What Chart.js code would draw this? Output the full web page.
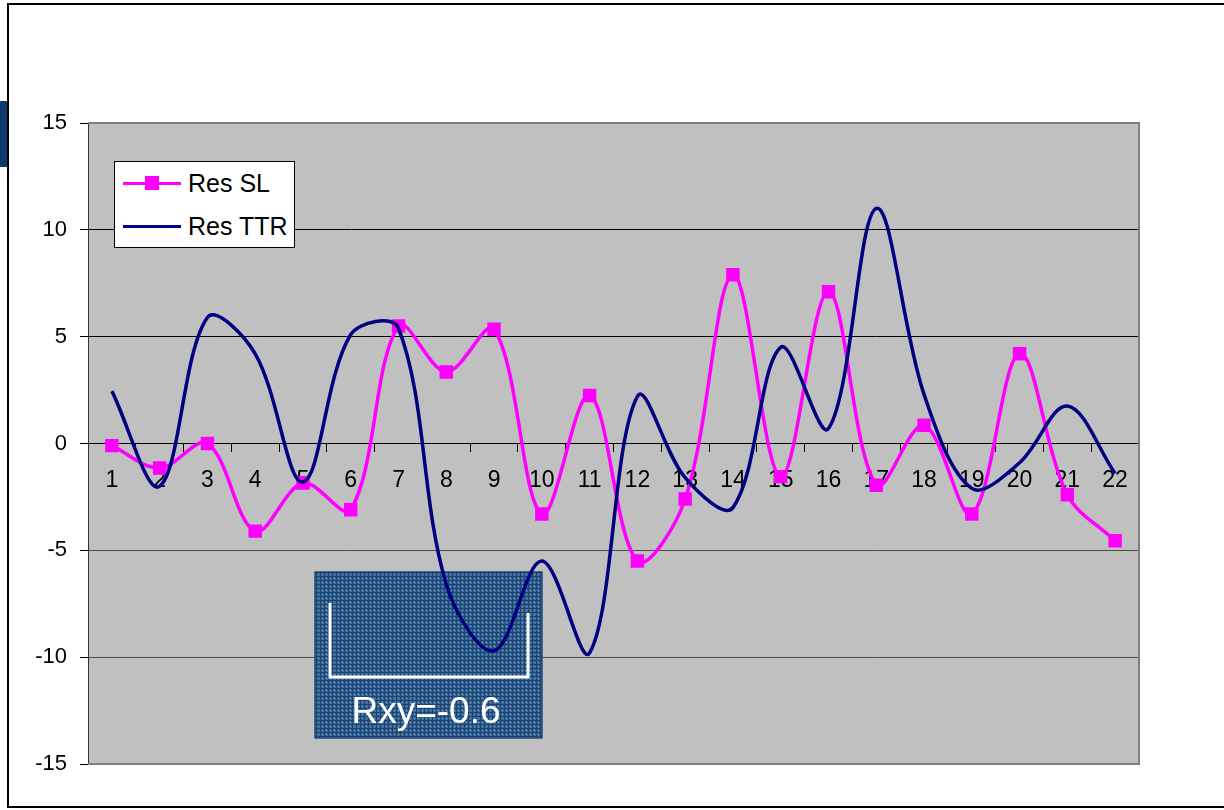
<!DOCTYPE html>
<html>
<head>
<meta charset="utf-8">
<script src="https://cdn.jsdelivr.net/npm/chart.js@4.4.1/dist/chart.umd.min.js"></script>
<style>
  html, body { margin: 0; padding: 0; background: #fff; }
  #wrap { position: relative; width: 1224px; height: 810px; overflow: hidden;
          font-family: "Liberation Sans", Arial, sans-serif; }
  #frame { position: absolute; left: 7px; top: 3px; width: 1300px; height: 805px;
           border: 2px solid #000; box-sizing: border-box; }
  #tab { position: absolute; left: 0; top: 101px; width: 7px; height: 66px; background: #0d3b6e; }
  #chart { position: absolute; left: 0; top: 0; }
  #legend { position: absolute; left: 114px; top: 161px; width: 181px; height: 87px;
            background: #fff; border: 1px solid #000; box-sizing: border-box; }
  #legend .txt { position: absolute; left: 73px; font-size: 25px; line-height: 29px; color: #000; white-space: nowrap; }
  #legend .ln { position: absolute; left: 8px; width: 58px; height: 3px; }
  #legend .mk { position: absolute; left: 30px; width: 14px; height: 14px; background: #ff00ff; }
</style>
</head>
<body>
<div id="wrap">
  <div id="frame"></div>
  <div id="tab"></div>
  <canvas id="chart" width="1224" height="810"></canvas>
  <div id="legend">
    <div class="ln" style="top:20px;background:#ff00ff;"></div>
    <div class="mk" style="top:14px;"></div>
    <div class="txt" style="top:7px;">Res SL</div>
    <div class="ln" style="top:63px;background:#000080;"></div>
    <div class="txt" style="top:50px;">Res TTR</div>
  </div>
</div>
<script>
// Categories along the x axis
const categories = ['1','2','3','4','5','6','7','8','9','10','11','12','13','14','15','16','17','18','19','20','21','22'];

// Residual series
const resSL  = [-0.1, -1.15, 0.0, -4.1, -1.85, -3.1, 5.5, 3.35, 5.35, -3.3, 2.25, -5.5,
                -2.6, 7.9, -1.55, 7.1, -1.95, 0.85, -3.3, 4.2, -2.4, -4.55];
const resTTR = [2.45, -2.0, 5.9, 4.2, -1.8, 5.1, 5.4, -6.6, -9.7, -5.5, -9.8, 2.2,
                -1.6, -3.0, 4.5, 0.7, 11.0, 2.3, -2.1, -0.9, 1.75, -1.4];

// Value axis range
const yMin = -15, yMax = 15, yStep = 5;

// Correlation note
const noteText = 'Rxy=-0.6';

const FONT = '"Liberation Sans", Arial, sans-serif';

// Small tiled texture for the note box
function makeTexture(ctx) {
  const t = document.createElement('canvas');
  t.width = 8; t.height = 8;
  const g = t.getContext('2d');
  g.fillStyle = '#3e6a97'; g.fillRect(0, 0, 8, 8);
  g.fillStyle = '#1a4474'; g.fillRect(0, 0, 8, 1); g.fillRect(0, 0, 1, 8);
  g.fillRect(0, 4, 8, 1); g.fillRect(4, 0, 1, 8);
  g.fillStyle = '#6f93ba';
  g.fillRect(2, 2, 1, 1); g.fillRect(6, 2, 1, 1); g.fillRect(2, 6, 1, 1); g.fillRect(6, 6, 1, 1);
  return ctx.createPattern(t, 'repeat');
}

const plotFrame = {
  id: 'plotFrame',
  beforeDraw(chart) {
    const { ctx, chartArea: a } = chart;
    ctx.save();
    ctx.fillStyle = '#c0c0c0';
    ctx.fillRect(a.left, a.top, a.right - a.left, a.bottom - a.top);
    ctx.restore();
  },
  beforeDatasetsDraw(chart) {
    const { ctx, chartArea: a } = chart;
    ctx.save();
    // plot area outline
    ctx.strokeStyle = '#808080';
    ctx.lineWidth = 2;
    ctx.beginPath();
    ctx.moveTo(a.left, a.top);
    ctx.lineTo(a.right, a.top);
    ctx.lineTo(a.right, a.bottom);
    ctx.lineTo(a.left, a.bottom);
    ctx.stroke();

    // note box
    const bx = a.left + 226.5, by = a.top + 448.5, bw = 228, bh = 167;
    ctx.fillStyle = makeTexture(ctx);
    ctx.fillRect(bx, by, bw, bh);
    ctx.strokeStyle = '#1b3f6a';
    ctx.lineWidth = 1;
    ctx.strokeRect(bx + 0.5, by + 0.5, bw - 1, bh - 1);

    // bracket
    ctx.strokeStyle = '#ffffff';
    ctx.lineWidth = 3;
    ctx.lineJoin = 'miter';
    ctx.beginPath();
    ctx.moveTo(bx + 15.5, by + 31.5);
    ctx.lineTo(bx + 15.5, by + 105.5);
    ctx.lineTo(bx + 213.5, by + 105.5);
    ctx.lineTo(bx + 213.5, by + 41.5);
    ctx.stroke();

    // note text
    ctx.fillStyle = '#ffffff';
    ctx.font = '37px ' + FONT;
    ctx.textAlign = 'center';
    ctx.textBaseline = 'alphabetic';
    ctx.fillText(noteText, bx + 111.5, by + 151.5);
    ctx.restore();
  }
};

new Chart(document.getElementById('chart'), {
  type: 'line',
  data: {
    labels: categories,
    datasets: [
      {
        label: 'Res SL',
        data: resSL,
        borderColor: '#ff00ff',
        backgroundColor: '#ff00ff',
        borderWidth: 3.5,
        pointStyle: 'rect',
        pointRadius: 9.5,
        pointBorderWidth: 0,
        pointBackgroundColor: '#ff00ff',
        tension: 0.35,
        order: 1
      },
      {
        label: 'Res TTR',
        data: resTTR,
        borderColor: '#000080',
        backgroundColor: '#000080',
        borderWidth: 3.5,
        pointRadius: 0,
        tension: 0.35,
        order: 0
      }
    ]
  },
  options: {
    responsive: false,
    animation: false,
    events: [],
    layout: { padding: { left: 0, top: 123, right: 85, bottom: 46 } },
    plugins: { legend: { display: false }, tooltip: { enabled: false } },
    scales: {
      x: {
        type: 'category',
        offset: true,
        position: { y: 0 },
        grid: { offset: true, drawOnChartArea: false, drawTicks: true, tickLength: 8, color: '#000' },
        border: { color: '#000', width: 1 },
        ticks: { color: '#000', font: { family: FONT, size: 23 }, padding: 15, maxRotation: 0, autoSkip: false }
      },
      y: {
        min: yMin,
        max: yMax,
        ticks: { stepSize: yStep, color: '#000', font: { family: FONT, size: 22 }, padding: 13 },
        grid: {
          drawTicks: true,
          tickLength: 8,
          tickColor: '#000',
          color: (c) => {
            const v = c.tick ? c.tick.value : 0;
            if (v === yMin || v === yMax) return 'rgba(0,0,0,0)';
            return v < 0 ? '#4d4d4d' : '#000';
          }
        },
        border: { color: '#333', width: 1 },
        afterFit(scale) { scale.width = 88; }
      }
    }
  },
  plugins: [plotFrame]
});
</script>
</body>
</html>
